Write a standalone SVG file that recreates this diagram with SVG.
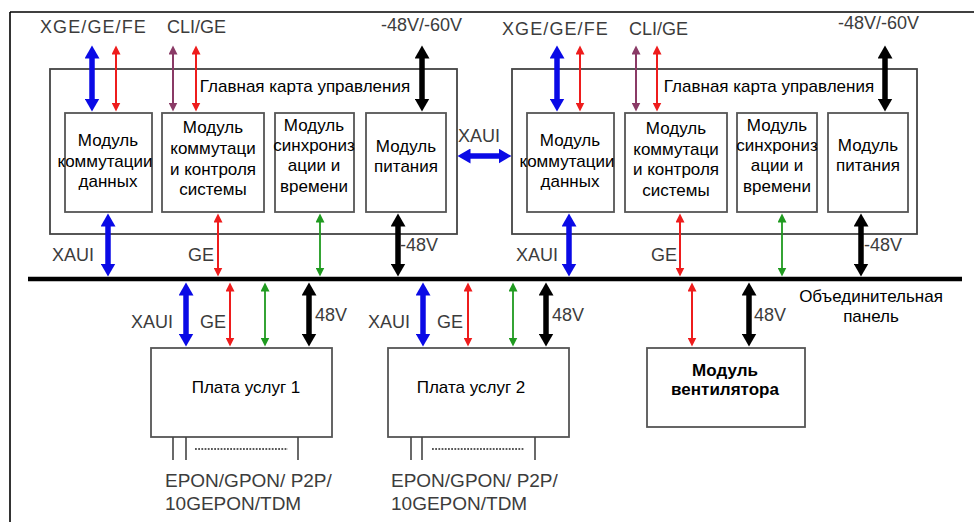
<svg xmlns="http://www.w3.org/2000/svg" width="974" height="522" viewBox="0 0 974 522">
<style>
.box{fill:#fff;stroke:#555;stroke-width:1.8}
.card{fill:none;stroke:#444;stroke-width:1.8}
.ru{font-family:"Liberation Sans",Arial,sans-serif;font-size:17px;fill:#000;text-anchor:middle}
.lb{font-family:"Liberation Sans",Arial,sans-serif;font-size:18px;fill:#3c3c3c}
.ep{font-family:"Liberation Sans",Arial,sans-serif;font-size:19px;fill:#3c3c3c}
.thickB{stroke:#0a0ae6;stroke-width:5.5;fill:none;marker-start:url(#hB);marker-end:url(#hB)}
.thickK{stroke:#000;stroke-width:5.5;fill:none;marker-start:url(#hK);marker-end:url(#hK)}
.thinR{stroke:#ee1c1c;stroke-width:2;fill:none;marker-start:url(#hR);marker-end:url(#hR)}
.thinG{stroke:#1f9a1f;stroke-width:1.8;fill:none;marker-start:url(#hG);marker-end:url(#hG)}
.thinP{stroke:#8a3a66;stroke-width:2;fill:none;marker-start:url(#hP);marker-end:url(#hP)}
.tick{stroke:#444;stroke-width:1.6}
</style>
<defs>
<marker id="hB" markerUnits="userSpaceOnUse" markerWidth="14" markerHeight="15" refX="0.5" refY="7.5" orient="auto-start-reverse"><path d="M0,0 L13,7.5 L0,15 z" fill="#0a0ae6"/></marker>
<marker id="hK" markerUnits="userSpaceOnUse" markerWidth="14" markerHeight="15" refX="0.5" refY="7.5" orient="auto-start-reverse"><path d="M0,0 L13,7.5 L0,15 z" fill="#000"/></marker>
<marker id="hR" markerUnits="userSpaceOnUse" markerWidth="10" markerHeight="9" refX="0.5" refY="4.5" orient="auto-start-reverse"><path d="M0,0 L9,4.5 L0,9 z" fill="#ee1c1c"/></marker>
<marker id="hG" markerUnits="userSpaceOnUse" markerWidth="10" markerHeight="9" refX="0.5" refY="4.5" orient="auto-start-reverse"><path d="M0,0 L9,4.5 L0,9 z" fill="#1f9a1f"/></marker>
<marker id="hP" markerUnits="userSpaceOnUse" markerWidth="10" markerHeight="9" refX="0.5" refY="4.5" orient="auto-start-reverse"><path d="M0,0 L9,4.5 L0,9 z" fill="#8a3a66"/></marker>
</defs>
<rect x="0" y="0" width="974" height="522" fill="#fff"/>
<g id="frame" stroke="#000" stroke-width="1.6">
<line x1="10" y1="12" x2="974" y2="12"/>
<line x1="10" y1="12" x2="10" y2="522"/>
</g>

<g id="mainCard1">
<rect class="card" x="50" y="69" width="407" height="165"/>
<text class="ru" x="305" y="92">Главная карта управления</text>
</g>
<g id="m1a"><rect class="box" x="65" y="113" width="87" height="99"/>
<text class="ru" x="108" y="146">Модуль</text><text class="ru" x="105" y="167">коммутации</text><text class="ru" x="108" y="187">данных</text></g>
<g id="m2a"><rect class="box" x="162" y="113" width="102" height="99"/>
<text class="ru" x="213" y="133">Модуль</text><text class="ru" x="213" y="154">коммутаци</text><text class="ru" x="213" y="175">и контроля</text><text class="ru" x="213" y="195">системы</text></g>
<g id="m3a"><rect class="box" x="275" y="113" width="79" height="99"/>
<text class="ru" x="314" y="131">Модуль</text><text class="ru" x="314" y="151">синхрониз</text><text class="ru" x="314" y="171">ации и</text><text class="ru" x="314" y="192">времени</text></g>
<g id="m4a"><rect class="box" x="366" y="113" width="80" height="99"/>
<text class="ru" x="406" y="152">Модуль</text><text class="ru" x="406" y="172">питания</text></g>

<g id="mainCard2">
<rect class="card" x="512" y="69" width="405" height="165"/>
<text class="ru" x="769" y="92">Главная карта управления</text>
</g>
<g id="m1b"><rect class="box" x="527" y="113" width="87" height="99"/>
<text class="ru" x="570" y="146">Модуль</text><text class="ru" x="567" y="167">коммутации</text><text class="ru" x="570" y="187">данных</text></g>
<g id="m2b"><rect class="box" x="625" y="113" width="102" height="99"/>
<text class="ru" x="676" y="134">Модуль</text><text class="ru" x="676" y="155">коммутаци</text><text class="ru" x="676" y="175">и контроля</text><text class="ru" x="676" y="196">системы</text></g>
<g id="m3b"><rect class="box" x="737" y="113" width="80" height="99"/>
<text class="ru" x="777" y="131">Модуль</text><text class="ru" x="777" y="151">синхрониз</text><text class="ru" x="777" y="171">ации и</text><text class="ru" x="777" y="192">времени</text></g>
<g id="m4b"><rect class="box" x="828" y="113" width="80" height="99"/>
<text class="ru" x="868" y="151">Модуль</text><text class="ru" x="868" y="171">питания</text></g>

<g id="backplane">
<line x1="28" y1="279" x2="962" y2="279" stroke="#000" stroke-width="4.5"/>
<text class="ru" x="871" y="302">Объединительная</text>
<text class="ru" x="871" y="322">панель</text>
</g>

<g id="svc1"><rect class="box" x="151" y="348" width="181" height="89"/>
<text class="ru" x="246" y="393">Плата услуг 1</text>
<line class="tick" x1="173" y1="437" x2="173" y2="460"/><line class="tick" x1="186" y1="437" x2="186" y2="460"/><line class="tick" x1="298" y1="437" x2="298" y2="460"/>
<line x1="195" y1="449" x2="288" y2="449" stroke="#222" stroke-width="1.6" stroke-dasharray="1.8,1.4"/>
<text class="ep" x="165" y="487">EPON/GPON/ P2P/</text><text class="ep" x="165" y="510">10GEPON/TDM</text></g>

<g id="svc2"><rect class="box" x="388" y="348" width="181" height="89"/>
<text class="ru" x="471" y="393">Плата услуг 2</text>
<line class="tick" x1="411" y1="437" x2="411" y2="460"/><line class="tick" x1="422" y1="437" x2="422" y2="460"/><line class="tick" x1="535" y1="437" x2="535" y2="460"/>
<line x1="432" y1="449" x2="524" y2="449" stroke="#222" stroke-width="1.6" stroke-dasharray="1.8,1.4"/>
<text class="ep" x="391" y="487">EPON/GPON/ P2P/</text><text class="ep" x="391" y="510">10GEPON/TDM</text></g>

<g id="fan"><rect class="box" x="647" y="348" width="158" height="79"/>
<text class="ru" x="725" y="376" font-weight="bold">Модуль</text>
<text class="ru" x="725" y="395" font-weight="bold">вентилятора</text></g>

<g id="connectors">
<line class="thickB" x1="92" y1="58" x2="92" y2="99"/>
<line class="thinR" x1="116" y1="54" x2="116" y2="103"/>
<line class="thinP" x1="173" y1="54" x2="173" y2="103"/>
<line class="thinR" x1="196" y1="54" x2="196" y2="103"/>
<line class="thickK" x1="422" y1="58" x2="422" y2="99"/>
<line class="thickB" x1="108" y1="226" x2="108" y2="264"/>
<line class="thinR" x1="218" y1="222" x2="218" y2="268"/>
<line class="thinG" x1="320" y1="222" x2="320" y2="268"/>
<line class="thickK" x1="398" y1="226" x2="398" y2="264"/>
<line class="thickB" x1="557" y1="58" x2="557" y2="99"/>
<line class="thinR" x1="580" y1="54" x2="580" y2="103"/>
<line class="thinP" x1="636" y1="54" x2="636" y2="103"/>
<line class="thinR" x1="657" y1="54" x2="657" y2="103"/>
<line class="thickK" x1="885" y1="58" x2="885" y2="99"/>
<line class="thickB" x1="569" y1="226" x2="569" y2="264"/>
<line class="thinR" x1="680" y1="222" x2="680" y2="268"/>
<line class="thinG" x1="782" y1="222" x2="782" y2="268"/>
<line class="thickK" x1="861" y1="226" x2="861" y2="264"/>
<line class="thickB" x1="470" y1="156" x2="499" y2="156"/>
<line class="thickB" x1="186" y1="295" x2="186" y2="334"/>
<line class="thinR" x1="230" y1="291" x2="230" y2="338"/>
<line class="thinG" x1="265" y1="291" x2="265" y2="338"/>
<line class="thickK" x1="309" y1="295" x2="309" y2="334"/>
<line class="thickB" x1="423" y1="295" x2="423" y2="334"/>
<line class="thinR" x1="468" y1="291" x2="468" y2="338"/>
<line class="thinG" x1="513" y1="291" x2="513" y2="338"/>
<line class="thickK" x1="546" y1="295" x2="546" y2="334"/>
<line class="thinR" x1="692" y1="291" x2="692" y2="338"/>
<line class="thickK" x1="749" y1="295" x2="749" y2="334"/>
</g>

<g id="labels">
<text class="lb" x="40" y="33" letter-spacing="1.1">XGE/GE/FE</text>
<text class="lb" x="167" y="33">CLI/GE</text>
<text class="lb" x="381" y="31">-48V/-60V</text>
<text class="lb" x="502" y="35" letter-spacing="1.1">XGE/GE/FE</text>
<text class="lb" x="629" y="35">CLI/GE</text>
<text class="lb" x="838" y="29">-48V/-60V</text>
<text class="lb" x="458" y="142">XAUI</text>
<text class="lb" x="52" y="261">XAUI</text>
<text class="lb" x="188" y="261">GE</text>
<text class="lb" x="400" y="251">-48V</text>
<text class="lb" x="516" y="261">XAUI</text>
<text class="lb" x="651" y="261">GE</text>
<text class="lb" x="864" y="251">-48V</text>
<text class="lb" x="131" y="328">XAUI</text>
<text class="lb" x="200" y="328">GE</text>
<text class="lb" x="315" y="321">48V</text>
<text class="lb" x="368" y="328">XAUI</text>
<text class="lb" x="437" y="328">GE</text>
<text class="lb" x="552" y="321">48V</text>
<text class="lb" x="754" y="321">48V</text>
</g>
</svg>
